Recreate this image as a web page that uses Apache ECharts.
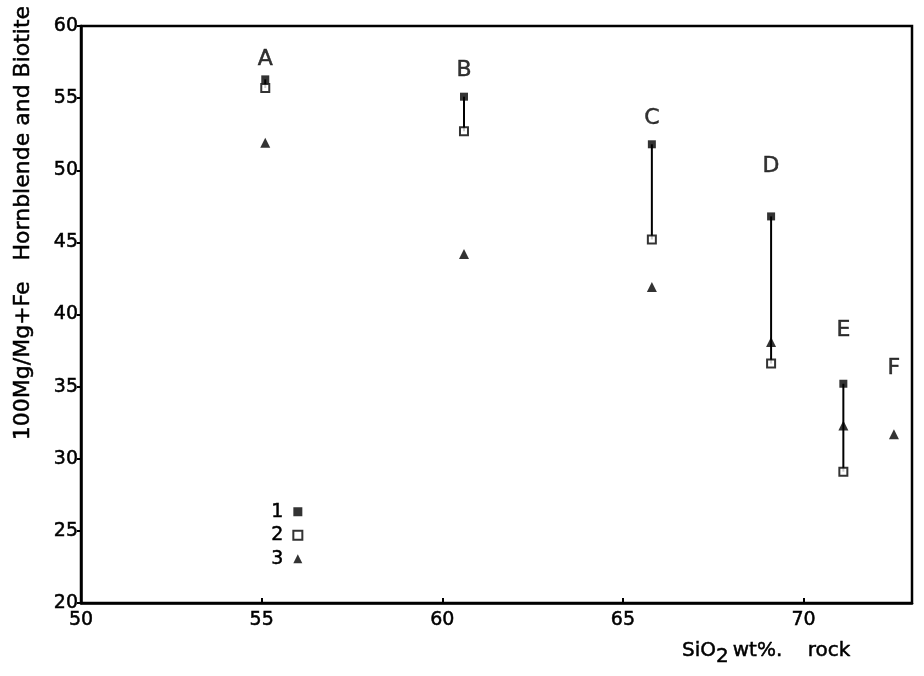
<!DOCTYPE html>
<html><head><meta charset="utf-8">
<script src="https://cdn.jsdelivr.net/npm/echarts@6/dist/echarts.min.js"></script>
<style>html,body{margin:0;padding:0;background:#fff}#c{width:924px;height:676px}</style>
</head><body><div id="c"></div>
<script>
// Groups (sample labels) and values
const groups   = ['A', 'B', 'C', 'D', 'E', 'F'];
const sio2     = [55.1, 60.6, 65.8, 69.1, 71.1, 72.5];
const filled   = [56.3, 55.1, 51.8, 46.8, 35.2, null];   // 1: filled square
const open     = [55.7, 52.7, 45.2, 36.6, 29.1, null];   // 2: open square
const tri      = [51.9, 44.2, 41.9, 38.1, 32.3, 31.7];   // 3: triangle
const labelY   = [57.7, 56.9, 53.6, 50.3, 38.9, 36.3];   // letter label heights
const legendNames = ['1', '2', '3'];
const xTicks = [50, 55, 60, 65, 70];
const yTicks = [20, 25, 30, 35, 40, 45, 50, 55, 60];

const FONT = 'DejaVu Sans';
const heavy = { textBorderColor: '#000', textBorderWidth: 0.5 };
const pts = arr => sio2.map((x, i) => arr[i] == null ? null : [x, arr[i]]).filter(Boolean);

const series = [];
// connecting vertical lines filled -> open
groups.forEach((g, i) => {
  if (filled[i] != null && open[i] != null) {
    series.push({
      type: 'line', silent: true, symbol: 'none', z: 1,
      lineStyle: { color: '#000', width: 2 },
      data: [[sio2[i], filled[i]], [sio2[i], open[i]]]
    });
  }
});
series.push({
  name: '1', type: 'scatter', symbol: 'rect', symbolSize: 8, z: 3,
  itemStyle: { color: '#000' }, data: pts(filled)
});
series.push({
  name: '2', type: 'scatter', symbol: 'rect', symbolSize: 8, z: 3,
  itemStyle: { color: '#fff', borderColor: '#000', borderWidth: 2 }, data: pts(open)
});
series.push({
  name: '3', type: 'scatter', symbol: 'triangle', symbolSize: 10, z: 3,
  itemStyle: { color: '#000' }, data: pts(tri)
});
series.push({
  type: 'scatter', silent: true, symbolSize: 0, z: 4,
  data: groups.map((g, i) => ({ name: g, value: [sio2[i], labelY[i]] })),
  label: Object.assign({ show: true, position: 'inside', formatter: p => p.name,
    color: '#000', fontFamily: FONT, fontSize: 22 }, heavy)
});

const chart = echarts.init(document.getElementById('c'));
chart.setOption({
  animation: false,
  backgroundColor: '#fff',
  grid: { left: 81, right: 12, top: 26, bottom: 73, show: true, borderColor: '#000', borderWidth: 2.5, backgroundColor: 'transparent' },
  xAxis: {
    type: 'value', min: 50, max: 73, interval: 5,
    axisLine: { show: true, lineStyle: { color: '#000', width: 2.5 } },
    axisTick: { show: true, inside: true, length: 5, lineStyle: { color: '#000', width: 2 } },
    splitLine: { show: false },
    axisLabel: Object.assign({ color: '#000', fontFamily: FONT, fontSize: 19, margin: 8, showMaxLabel: false,
      formatter: v => xTicks.includes(v) ? String(v) : '' }, heavy)
  },
  yAxis: {
    type: 'value', min: 20, max: 60, interval: 5,
    axisLine: { show: true, lineStyle: { color: '#000', width: 2.5 } },
    axisTick: { show: true, inside: false, length: 4, lineStyle: { color: '#000', width: 2 } },
    splitLine: { show: false },
    axisLabel: Object.assign({ color: '#000', fontFamily: FONT, fontSize: 19, margin: 3,
      formatter: v => yTicks.includes(v) ? String(v) : '' }, heavy)
  },
  legend: {
    orient: 'vertical', align: 'right', left: 266, top: 497,
    itemWidth: 9, itemHeight: 9, itemGap: 4,
    textStyle: Object.assign({ color: '#000', fontFamily: FONT, fontSize: 19, padding: [0, 5, 0, 0] }, heavy),
    data: legendNames.map(n => ({ name: n }))
  },
  graphic: [
    { type: 'text', x: 23, y: 223, rotation: Math.PI / 2,
      style: { text: '100Mg/Mg+Fe   Hornblende and Biotite', fill: '#000', stroke: '#000', lineWidth: 0.5,
        font: '22px "DejaVu Sans"', align: 'center', verticalAlign: 'middle' } },
    { type: 'text', x: 682, y: 651,
      style: { text: '{a|SiO}{b|2}{a|wt%.    rock}', fill: '#000', verticalAlign: 'middle',
        rich: { a: { fontFamily: FONT, fontSize: 20, fill: '#000', stroke: '#000', lineWidth: 0.5 },
                b: { fontFamily: FONT, fontSize: 20, fill: '#000', stroke: '#000', lineWidth: 0.5, padding: [12, 4, 0, 0] } } } }
  ],
  series
});
</script></body></html>
